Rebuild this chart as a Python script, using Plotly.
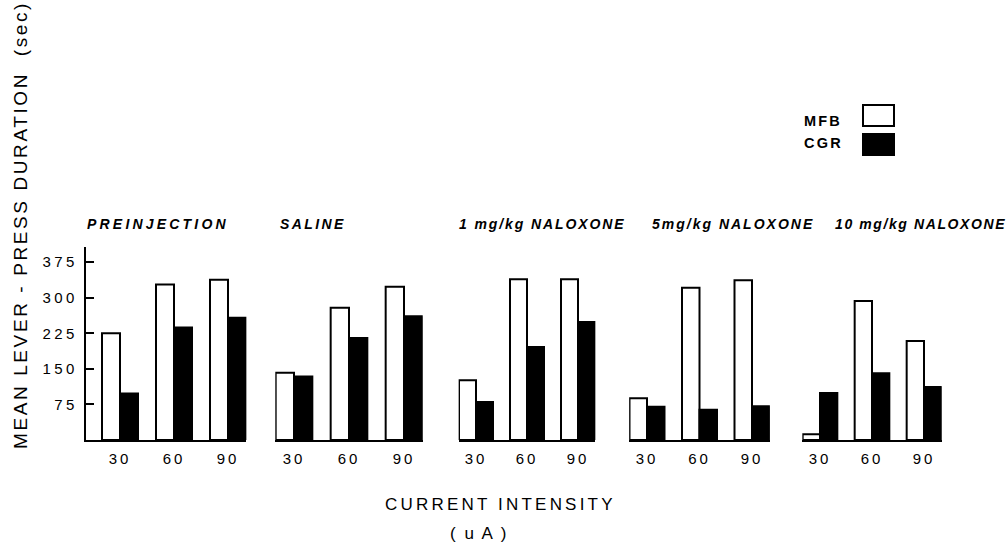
import plotly.graph_objects as go

groups = ["PREINJECTION", "SALINE", "1 mg/kg NALOXONE", "5mg/kg NALOXONE", "10 mg/kg NALOXONE"]
intensities = ["30", "60", "90"]
mfb = [
    [225, 328, 338],
    [142, 279, 323],
    [126, 339, 339],
    [88, 321, 337],
    [12, 293, 209],
]
cgr = [
    [98, 237, 258],
    [134, 215, 261],
    [80, 196, 249],
    [70, 64, 71],
    [99, 141, 112],
]
y_ticks = [75, 150, 225, 300, 375]

W, H = 1007, 546
FONT = "Liberation Sans, Arial, sans-serif"


def px(x):
    return x / W


def py(y):
    return 1 - y / H


def spaced(t, sp):
    return "<span style='letter-spacing:%spx'>%s</span>" % (sp, t)


# layout of each group in pixels: (first-pair centre, spacing, left range)
group_layout = [
    (120, 54, -0.63),
    (294, 55, -0.34),
    (476, 51, -0.34),
    (647, 52.5, -0.34),
    (820, 52, -0.34),
]
right_r = 2.34
title_left = [85, 278, 457, 650, 833]
title_sp = [3.2, 2.4, 1.9, 2.0, 1.6]

fig = go.Figure()
layout_axes = {}
for g, (c0, s, lr) in enumerate(group_layout):
    ax = "" if g == 0 else str(g + 1)
    xs = [0, 1, 2]
    fig.add_trace(go.Bar(
        x=xs, y=mfb[g], xaxis="x" + ax, yaxis="y", name="MFB",
        marker=dict(color="white", line=dict(color="black", width=2)),
        offsetgroup="MFB", showlegend=False,
    ))
    fig.add_trace(go.Bar(
        x=xs, y=cgr[g], xaxis="x" + ax, yaxis="y", name="CGR",
        marker=dict(color="black", line=dict(color="black", width=2)),
        offsetgroup="CGR", showlegend=False,
    ))
    x0 = c0 + lr * s
    x1 = c0 + right_r * s
    layout_axes["xaxis" + ax] = dict(
        domain=[px(x0), px(x1)], range=[lr, right_r], anchor="y",
        tickmode="array", tickvals=xs, ticktext=[spaced(t, 3) for t in intensities],
        showline=True, linecolor="black", linewidth=2, showgrid=False,
        zeroline=False, ticks="", ticklabelstandoff=4,
        tickfont=dict(family=FONT, size=15, color="black"),
    )
    fig.add_annotation(
        text="<b><i>" + spaced(groups[g], title_sp[g]) + "</i></b>",
        xref="paper", yref="paper", x=px(title_left[g]), y=py(224),
        xanchor="left", yanchor="middle", showarrow=False,
        font=dict(family=FONT, size=14, color="black"),
    )

y_bottom, y_top = 440, 247
fig.update_layout(
    width=W, height=H, margin=dict(l=0, r=0, t=0, b=0),
    paper_bgcolor="white", plot_bgcolor="white",
    barmode="group", bargap=1 / 3, bargroupgap=0,
    yaxis=dict(
        domain=[py(y_bottom), py(y_top)], range=[0, 407], anchor="x",
        tickmode="array", tickvals=y_ticks,
        ticktext=[spaced(str(v), 3.5) for v in y_ticks],
        ticks="inside", ticklen=8, tickwidth=2, tickcolor="black",
        ticklabelstandoff=3,
        showline=True, linecolor="black", linewidth=2, showgrid=False, zeroline=False,
        tickfont=dict(family=FONT, size=15, color="black"),
    ),
    **layout_axes,
)

# axis titles
fig.add_annotation(
    text=spaced("MEAN LEVER - PRESS DURATION  (sec)", 2.6),
    xref="paper", yref="paper", x=px(20), y=py(225), textangle=-90,
    showarrow=False, xanchor="center", yanchor="middle",
    font=dict(family=FONT, size=19, color="black"),
)
fig.add_annotation(
    text=spaced("CURRENT INTENSITY", 3.2), xref="paper", yref="paper",
    x=px(500), y=py(504), showarrow=False, xanchor="center", yanchor="middle",
    font=dict(family=FONT, size=17, color="black"),
)
fig.add_annotation(
    text=spaced("( u A )", 2), xref="paper", yref="paper",
    x=px(479), y=py(533), showarrow=False, xanchor="center", yanchor="middle",
    font=dict(family=FONT, size=17, color="black"),
)

# legend
legend_items = [("MFB", "white", 115.5, 121), ("CGR", "black", 144.5, 143.5)]
for label, color, yc, yt in legend_items:
    fig.add_shape(
        type="rect", xref="paper", yref="paper",
        x0=px(863), x1=px(894), y0=py(yc + 10.5), y1=py(yc - 10.5),
        fillcolor=color, line=dict(color="black", width=2),
    )
    fig.add_annotation(
        text="<b>" + spaced(label, 2.2) + "</b>", xref="paper", yref="paper",
        x=px(802), y=py(yt), xanchor="left", yanchor="middle",
        showarrow=False, font=dict(family=FONT, size=14.5, color="black"),
    )

fig.write_html("out.html", config={"displayModeBar": False},
               post_script="document.body.style.margin='0';")
